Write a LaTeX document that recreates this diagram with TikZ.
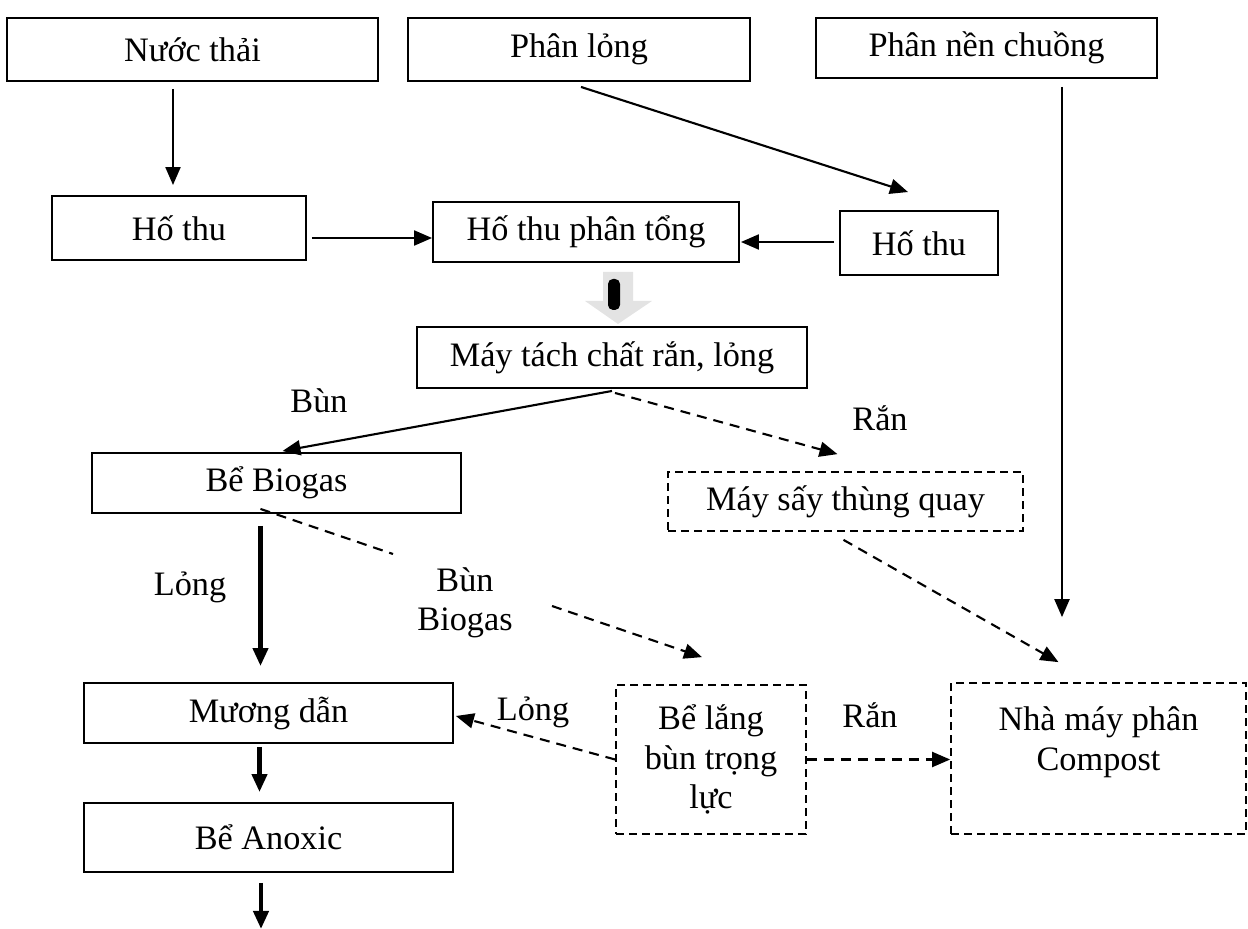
\documentclass[tikz,border=0pt]{standalone}
\usepackage{fontspec}
\setmainfont{Liberation Serif}
\usetikzlibrary{arrows.meta, calc}

\tikzset{
  box/.style={draw, line width=1.1pt, inner sep=0pt, align=center},
  dbox/.style={box, line width=1pt, dash pattern=on 0.16cm off 0.1cm},
  arr/.style={-{Triangle[length=0.36cm, width=0.3cm]}, line width=1.2pt},
  fatarr/.style={arr, line width=2.4pt},
  darr/.style={arr, dash pattern=on 0.2cm off 0.14cm},
  dline/.style={line width=1.2pt, dash pattern=on 0.2cm off 0.14cm},
}

\begin{document}
\begin{tikzpicture}[x=0.02cm, y=-0.02cm, font=\fontsize{19.5}{22.5}\selectfont]
      \useasboundingbox (0,0) rectangle (1248,929);

      % Sources
      \node[box, minimum width=7.42cm, minimum height=1.26cm] (nuocthai) at (192.5,49.5) {Nước thải};
      \node[box, minimum width=6.84cm, minimum height=1.26cm] (phanlong) at (579,49.5) {Phân lỏng};
      \node[box, minimum width=6.82cm, minimum height=1.2cm] (phannen) at (986.5,48) {Phân nền chuồng};

      % Collecting pits
      \node[box, minimum width=5.08cm, minimum height=1.28cm] (hothuA) at (179,228) {Hố thu};
      \node[box, minimum width=6.12cm, minimum height=1.2cm] (ptong) at (586,232) {Hố thu phân tổng};
      \node[box, minimum width=3.16cm, minimum height=1.28cm] (hothuB) at (919,243) {Hố thu};

      % Separation
      \node[box, minimum width=7.8cm, minimum height=1.22cm] (maytach) at (612,357.5) {Máy tách chất rắn, lỏng};
      \node[box, minimum width=7.38cm, minimum height=1.2cm] (biogas) at (276.5,483) {Bể Biogas};
      \node[dbox, minimum width=7.1cm, minimum height=1.18cm] (maysay) at (845.5,501.5) {Máy sấy thùng quay};

      % Lower row
      \node[box, minimum width=7.38cm, minimum height=1.2cm] (muong) at (268.5,713) {Mương dẫn};
      \node[dbox, minimum width=3.8cm, minimum height=2.98cm] (belang) at (711,759.5) {Bể lắng\\bùn trọng\\lực};
      \node[dbox, minimum width=5.9cm, minimum height=3.02cm] (nhamay) at (1098.5,758.5) {Nhà máy phân\\Compost\\\mbox{}};
      \node[box, minimum width=7.38cm, minimum height=1.38cm] (anoxic) at (268.5,837.5) {Bể Anoxic};

      % Labels
      \node (bunA) at (319,401) {Bùn};
      \node (ranA) at (880,418) {Rắn};
      \node (longA) at (190,587) {Lỏng};
      \node[align=center] (bunB) at (465,603) {Bùn\\Biogas};
      \node (longB) at (533,712) {Lỏng};
      \node (ranB) at (870,715) {Rắn};

      % Block arrow
      \coordinate (bigtop) at ($(ptong.south)+(32,9)$);
      \fill[gray!22] ($(bigtop)+(-15,0)$) -- ++(30,0) -- ++(0,29) -- ++(19,0)
        -- ($(bigtop)+(0,52)$) -- ($(bigtop)+(-33,29)$) -- ($(bigtop)+(-15,29)$) -- cycle;
      \fill[black, rounded corners=0.1cm] ($(bigtop)+(-10,7)$) rectangle ($(bigtop)+(2,38)$);

      % Arrows
      \draw[arr] ($(nuocthai.south)+(-19.5,7)$) -- ($(hothuA.north)+(-6,-10)$);
      \draw[arr] ($(phanlong.south)+(2,5)$) -- ($(hothuB.north)+(-11,-18)$);
      \draw[arr] ($(hothuA.east)+(5,10)$) -- ($(ptong.west)+(0,6)$);
      \draw[arr] ($(hothuB.west)+(-5,-1)$) -- ($(ptong.east)+(1,10)$);
      \draw[arr] ($(maytach.south)+(0,2)$) -- ($(biogas.north)+(6,-1)$);
      \draw[darr] ($(maytach.south)+(3,4)$) -- ($(maysay.north)+(-8,-17)$);
      \draw[fatarr] ($(biogas.south)+(-16,12)$) -- ($(muong.north)+(-8,-16)$);
      \coordinate (cutA) at (393,554);
      \coordinate (cutB) at (552,606);
      \draw[dline] ($(biogas.south)+(-16,-5)$) -- (cutA);
      \draw[darr] (cutB) -- ($(belang.north)+(-9,-27)$);
      \draw[darr] (belang.west) -- ($(muong.east)+(2,3)$);
      \draw[darr] (belang.east) -- (belang.east -| nhamay.west);
      \draw[darr] ($(maysay.south)+(-2,8)$) -- ($(nhamay.north)+(-40,-20)$);
      \coordinate (fall) at ($(nhamay.north)+(-36.5,-65)$);
      \draw[arr] ($(phannen.south -| fall)+(0,8)$) -- (fall);
      \draw[fatarr] ($(muong.south)+(-9,3)$) -- ($(anoxic.north)+(-9,-10)$);
      \coordinate (outlet) at ($(anoxic.south)+(-7.5,56)$);
      \draw[fatarr] ($(anoxic.south)+(-7.5,10)$) -- (outlet);
\end{tikzpicture}
\end{document}
